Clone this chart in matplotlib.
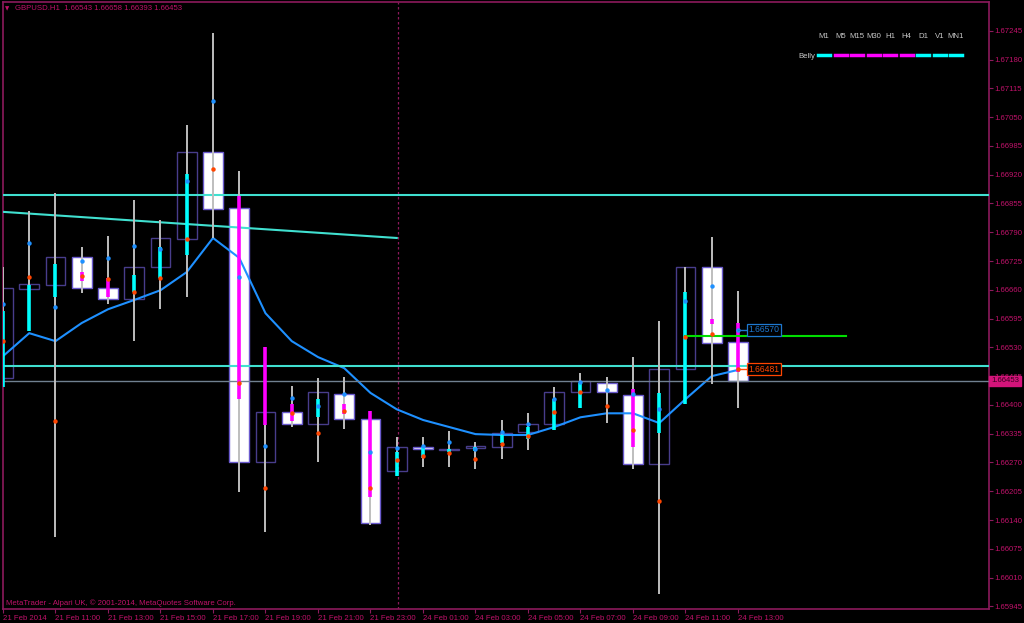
import matplotlib
matplotlib.use("Agg")
import matplotlib.pyplot as plt
from matplotlib.patches import Rectangle
from matplotlib.lines import Line2D

# GBPUSD H1 bars, 21 Feb 09:00 .. 24 Feb 13:00
opens = [1.66461, 1.66662, 1.66671, 1.66734, 1.66664, 1.66639, 1.66711, 1.66775,
         1.66971, 1.66845, 1.66271, 1.66384, 1.66357, 1.66424, 1.66368, 1.66250,
         1.66305, 1.66298, 1.66302, 1.66305, 1.66338, 1.66357, 1.66429, 1.66449,
         1.66422, 1.66266, 1.66481, 1.66711, 1.66543]
highs = [1.66711, 1.66838, 1.66879, 1.66757, 1.66782, 1.66863, 1.66818, 1.67033,
         1.67240, 1.66929, 1.66531, 1.66442, 1.66461, 1.66463, 1.66386, 1.66327,
         1.66327, 1.66341, 1.66316, 1.66366, 1.66381, 1.66440, 1.66472, 1.66463,
         1.66508, 1.66589, 1.66711, 1.66779, 1.66658]
lows = [1.66440, 1.66567, 1.66101, 1.66653, 1.66628, 1.66544, 1.66616, 1.66644,
        1.66777, 1.66203, 1.66112, 1.66350, 1.66271, 1.66345, 1.66128, 1.66239,
        1.66259, 1.66259, 1.66255, 1.66277, 1.66298, 1.66345, 1.66393, 1.66359,
        1.66255, 1.65974, 1.66402, 1.66447, 1.66393]
closes = [1.66664, 1.66673, 1.66734, 1.66664, 1.66639, 1.66711, 1.66777, 1.66971,
          1.66843, 1.66271, 1.66384, 1.66357, 1.66429, 1.66368, 1.66133, 1.66305,
          1.66300, 1.66300, 1.66307, 1.66336, 1.66357, 1.66429, 1.66454, 1.66429,
          1.66266, 1.66481, 1.66711, 1.66540, 1.66453]

# coloured overlay segments (None = no segment)
seg_top = [1.66612, 1.66671, 1.66718, 1.66700, 1.66687, 1.66693, 1.66757, 1.66922,
           None, 1.66872, 1.66531, 1.66402, 1.66413, 1.66402, 1.66386, 1.66293,
           1.66305, 1.66300, 1.66305, 1.66332, 1.66350, 1.66413, 1.66449, None,
           1.66436, 1.66427, 1.66655, 1.66594, 1.66585]
seg_bot = [1.66440, 1.66567, 1.66644, 1.66680, 1.66644, 1.66655, 1.66687, 1.66739,
           None, 1.66413, 1.66354, 1.66363, 1.66372, 1.66379, 1.66191, 1.66239,
           1.66280, 1.66293, 1.66296, 1.66314, 1.66323, 1.66343, 1.66393, None,
           1.66305, 1.66336, 1.66402, 1.66583, 1.66474]
seg_up = [1, 1, 1, 0, 0, 1, 1, 1, 0, 0, 0, 0, 1, 0, 0, 1, 1, 1, 1, 1, 1, 1, 1, 0,
          0, 1, 1, 0, 0]

blue_dots = [1.66628, 1.66766, 1.66621, 1.66725, 1.66732, 1.66759, 1.66752, 1.66906,
             1.67087, 1.66689, 1.66307, 1.66415, 1.66397, 1.66424, 1.66293, 1.66302,
             1.66307, 1.66316, 1.66300, 1.66338, 1.66357, 1.66413, 1.66451, 1.66433,
             1.66424, 1.66390, 1.66635, 1.66668, 1.66570]
orange_dots = [1.66544, 1.66689, 1.66363, 1.66691, 1.66684, 1.66655, 1.66687, 1.66775,
               1.66933, 1.66449, 1.66212, 1.66381, 1.66336, 1.66386, 1.66212, 1.66275,
               1.66284, 1.66291, 1.66277, 1.66311, 1.66329, 1.66384, 1.66429, 1.66397,
               1.66343, 1.66182, 1.66553, 1.66560, 1.66481]

ma = [1.66510, 1.66562, 1.66544, 1.66585, 1.66616, 1.66637, 1.66659, 1.66700,
      1.66777, 1.66732, 1.66607, 1.66544, 1.66508, 1.66483, 1.66427, 1.66390,
      1.66366, 1.66350, 1.66334, 1.66332, 1.66332, 1.66350, 1.66372, 1.66381,
      1.66381, 1.66359, 1.66413, 1.66465, 1.66479]

time_labels = ['21 Feb 2014', '21 Feb 11:00', '21 Feb 13:00', '21 Feb 15:00',
               '21 Feb 17:00', '21 Feb 19:00', '21 Feb 21:00', '21 Feb 23:00',
               '24 Feb 01:00', '24 Feb 03:00', '24 Feb 05:00', '24 Feb 07:00',
               '24 Feb 09:00', '24 Feb 11:00', '24 Feb 13:00']
price_ticks = ['1.65945', '1.66010', '1.66075', '1.66140', '1.66205', '1.66270',
               '1.66335', '1.66400', '1.66465', '1.66530', '1.66595', '1.66660',
               '1.66725', '1.66790', '1.66855', '1.66920', '1.66985', '1.67050',
               '1.67115', '1.67180', '1.67245']

level_hi = 1.66874
level_lo = 1.66488
bid = 1.66453
trend_start, trend_end = 1.66836, 1.66777   # bar 0 -> bar 15
green_level = 1.66555
green_end = 32.1

tf_names = ['M1', 'M5', 'M15', 'M30', 'H1', 'H4', 'D1', 'V1', 'MN1']
tf_state = [1, 0, 0, 0, 0, 0, 1, 1, 1]

BG = 'black'
FRAME = '#8C1A5C'
TXT = '#C0126A'
CYAN = '#00FFFF'
MAG = '#FF00FF'
TURQ = '#40E0D0'
FS = 5.6

plt.rcParams['font.family'] = ['Liberation Sans', 'DejaVu Sans']

W, H = 1024, 623
fig = plt.figure(figsize=(W / 100, H / 100), dpi=100, facecolor=BG)
ax = fig.add_axes([3 / W, 14 / H, 986 / W, 607 / H], facecolor=BG)
ax.set_xlim(0, 986 / 26.25)
ax.set_ylim(1.65939, 1.67310)

n = len(opens)
xs = list(range(n))
bw = 0.76

for i in xs:
    o, h, l, c = opens[i], highs[i], lows[i], closes[i]
    lo_b, hi_b = min(o, c), max(o, c)
    if c < o:
        ax.add_patch(Rectangle((i - bw / 2, lo_b), bw, max(hi_b - lo_b, 0.00002),
                               fc='white', ec='#6A5ACD', lw=1.0, zorder=2))
    else:
        ax.add_patch(Rectangle((i - bw / 2, lo_b), bw, max(hi_b - lo_b, 0.00002),
                               fc='none', ec='#483D8B', lw=1.0, zorder=2))
    ax.plot([i, i], [l, h], color='#BEBEBE', lw=1.4, zorder=4, solid_capstyle='butt')
    if seg_top[i] is not None:
        ax.plot([i, i], [seg_bot[i], seg_top[i]], color=CYAN if seg_up[i] else MAG,
                lw=2.6, zorder=5, solid_capstyle='butt')

ax.plot(xs, ma, color='#1E90FF', lw=1.5, zorder=3)
ax.plot(xs, blue_dots, 'o', color='#1E90FF', ms=3.2, mew=0, zorder=6)
ax.plot(xs, orange_dots, 'o', color='#FF4500', ms=3.2, mew=0, zorder=6)

# levels and trend line
ax.axhline(level_hi, color=TURQ, lw=1.5, zorder=3)
ax.axhline(level_lo, color=TURQ, lw=1.5, zorder=3)
ax.axhline(bid, color='#708090', lw=1.0, zorder=3)
ax.plot([0, 15], [trend_start, trend_end], color=TURQ, lw=1.5, zorder=3)
ax.plot([26, green_end], [green_level, green_level], color='#00DD00', lw=1.5, zorder=5)
ax.axvline(15.05, color=FRAME, lw=0.9, ls=(0, (2, 2)), zorder=1)

# price labels of the last bar's dots
for val, col in [(blue_dots[-1], '#1E78D0'), (orange_dots[-1], '#FF4500')]:
    ax.plot([n - 1, n - 0.62], [val, val], color=col, lw=1, zorder=6)
    ax.text(n - 0.6, val, f'{val:.5f}', color=col, fontsize=6.2, va='center', ha='left',
            zorder=7, bbox=dict(boxstyle='square,pad=0.18', fc=BG, ec=col, lw=0.9))

# axes styling
for s in ax.spines.values():
    s.set_color(FRAME)
    s.set_linewidth(1.2)
ax.yaxis.tick_right()
ax.set_yticks([float(t) for t in price_ticks])
ax.set_yticklabels(price_ticks)
ax.set_xticks(range(0, n, 2))
ax.set_xticklabels(time_labels)
ax.tick_params(axis='both', colors=FRAME, labelcolor=TXT, labelsize=FS, length=3,
               width=0.8, pad=1.5)
ax.tick_params(axis='y', pad=1)
for lab in ax.get_xticklabels():
    lab.set_horizontalalignment('left')

# header and footer
fig.text(5 / W, 1 - 9 / H, '\u25bc', color=TXT, fontsize=4, va='center', ha='left',
         family='DejaVu Sans')
fig.text(15 / W, 1 - 9 / H, 'GBPUSD.H1  1.66543 1.66658 1.66393 1.66453', color=TXT,
         fontsize=FS, va='center', ha='left')
fig.text(6 / W, 1 - 603 / H, 'MetaTrader - Alpari UK, \u00a9 2001-2014, MetaQuotes Software Corp.',
         color=TXT, fontsize=FS, va='center', ha='left')

# current price tag
fig.text(991 / W, 1 - 381 / H, f'{bid:.5f}', color='#3A0020', fontsize=FS, va='center',
         ha='left', bbox=dict(boxstyle='square,pad=0.25', fc='#D4147A', ec='#D4147A'))

# timeframe legend
x0, step = 818, 16.5
for k, (name, st) in enumerate(zip(tf_names, tf_state)):
    xc = x0 + 6 + k * step
    fig.text(xc / W, 1 - 37 / H, name, color='#C8C8C8', fontsize=FS, ha='center', va='center')
    fig.add_artist(Line2D([(xc - 6) / W, (xc + 6) / W], [1 - 55 / H, 1 - 55 / H],
                          color=CYAN if st else MAG, lw=2.5, transform=fig.transFigure))
fig.text(815 / W, 1 - 56 / H, 'Belly', color='#C8C8C8', fontsize=FS, ha='right', va='center')

fig.savefig('out.png', dpi=100, facecolor=BG)
